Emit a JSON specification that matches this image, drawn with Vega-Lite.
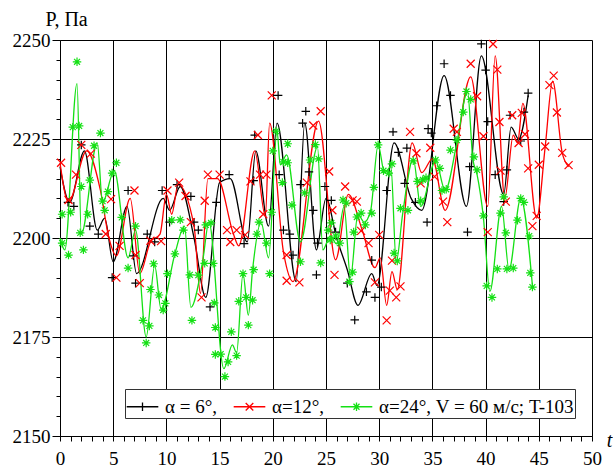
{
"$schema":"https://vega.github.io/schema/vega-lite/v6.json",
"width":532,"height":396,
"autosize":{"type":"none"},
"padding":{"left":60,"top":40,"right":21,"bottom":32},
"background":"white",
"config":{"view":{"stroke":null},
 "axis":{"labelColor":"black","titleColor":"black","labelOverlap":false,"labelFlush":false,"tickColor":"black","domainColor":"black","gridColor":"black"},
 "legend":{"labelFont":"Times New Roman","labelFontSize":19,"labelColor":"black"}},
"datasets":{
"ln":[
{"s":"a6","t":0,"p":2218},{"s":"a6","t":0.9,"p":2209},{"s":"a6","t":2.3,"p":2222},{"s":"a6","t":3.5,"p":2202},{"s":"a6","t":4.2,"p":2205},{"s":"a6","t":5.0,"p":2194},{"s":"a6","t":6.3,"p":2208},{"s":"a6","t":7.2,"p":2191},{"s":"a6","t":9.7,"p":2210},{"s":"a6","t":10.3,"p":2207},{"s":"a6","t":11.3,"p":2213},{"s":"a6","t":12.6,"p":2200},{"s":"a6","t":13.7,"p":2185},{"s":"a6","t":15.0,"p":2214},{"s":"a6","t":16.0,"p":2215},{"s":"a6","t":17.6,"p":2199},{"s":"a6","t":18.4,"p":2222},{"s":"a6","t":19.6,"p":2203},{"s":"a6","t":20.4,"p":2229},{"s":"a6","t":22.2,"p":2189},{"s":"a6","t":23.0,"p":2229},{"s":"a6","t":24.1,"p":2197},{"s":"a6","t":25.0,"p":2210},{"s":"a6","t":26.0,"p":2200},{"s":"a6","t":27.0,"p":2192},{"s":"a6","t":28.0,"p":2183},{"s":"a6","t":29.3,"p":2191},{"s":"a6","t":29.8,"p":2188},{"s":"a6","t":31.4,"p":2224},{"s":"a6","t":33.0,"p":2210},{"s":"a6","t":34.0,"p":2207},{"s":"a6","t":36.1,"p":2241},{"s":"a6","t":38.2,"p":2208},{"s":"a6","t":39.6,"p":2246},{"s":"a6","t":41.7,"p":2211},{"s":"a6","t":42.4,"p":2228},{"s":"a6","t":43.1,"p":2225},{"s":"a6","t":44.0,"p":2236},
{"s":"a12","t":0,"p":2219},{"s":"a12","t":0.8,"p":2209},{"s":"a12","t":2.5,"p":2222},{"s":"a12","t":3.8,"p":2212},{"s":"a12","t":4.6,"p":2200},{"s":"a12","t":5.3,"p":2195.5},{"s":"a12","t":6.6,"p":2210},{"s":"a12","t":7.5,"p":2191},{"s":"a12","t":8.5,"p":2199},{"s":"a12","t":9.4,"p":2201},{"s":"a12","t":10.0,"p":2211},{"s":"a12","t":10.5,"p":2206},{"s":"a12","t":11.1,"p":2213.5},{"s":"a12","t":12.6,"p":2203},{"s":"a12","t":13.2,"p":2186},{"s":"a12","t":13.9,"p":2215},{"s":"a12","t":14.8,"p":2215},{"s":"a12","t":16.3,"p":2201},{"s":"a12","t":16.8,"p":2198},{"s":"a12","t":18.3,"p":2222},{"s":"a12","t":19.3,"p":2205.5},{"s":"a12","t":19.7,"p":2229},{"s":"a12","t":21.0,"p":2196.5},{"s":"a12","t":21.9,"p":2189},{"s":"a12","t":24.3,"p":2229.5},{"s":"a12","t":25.9,"p":2194.5},{"s":"a12","t":27.1,"p":2211},{"s":"a12","t":28.4,"p":2202},{"s":"a12","t":29.6,"p":2192.5},{"s":"a12","t":30.1,"p":2195},{"s":"a12","t":30.7,"p":2183},{"s":"a12","t":31.2,"p":2191.5},{"s":"a12","t":31.7,"p":2187},{"s":"a12","t":33.1,"p":2224},{"s":"a12","t":34.0,"p":2216.5},{"s":"a12","t":35.0,"p":2220},{"s":"a12","t":36.2,"p":2207},{"s":"a12","t":38.6,"p":2240.7},{"s":"a12","t":40.2,"p":2208},{"s":"a12","t":40.9,"p":2246},{"s":"a12","t":41.8,"p":2210},{"s":"a12","t":42.6,"p":2226},{"s":"a12","t":43.0,"p":2224},{"s":"a12","t":43.5,"p":2234},{"s":"a12","t":44.8,"p":2205},{"s":"a12","t":45.6,"p":2223},{"s":"a12","t":46.3,"p":2239.6},{"s":"a12","t":47.2,"p":2221.5},{"s":"a12","t":47.8,"p":2218},
{"s":"a24","t":0,"p":2200},{"s":"a24","t":0.45,"p":2197},{"s":"a24","t":1.6,"p":2239},{"s":"a24","t":2.0,"p":2201},{"s":"a24","t":3.5,"p":2224},{"s":"a24","t":4.0,"p":2209},{"s":"a24","t":5.1,"p":2217},{"s":"a24","t":6.4,"p":2195},{"s":"a24","t":7.1,"p":2202},{"s":"a24","t":8.1,"p":2175},{"s":"a24","t":8.9,"p":2193},{"s":"a24","t":9.5,"p":2182},{"s":"a24","t":10.8,"p":2196},{"s":"a24","t":11.7,"p":2203},{"s":"a24","t":12.3,"p":2182.5},{"s":"a24","t":13.4,"p":2194},{"s":"a24","t":14.0,"p":2204},{"s":"a24","t":15.4,"p":2167},{"s":"a24","t":16.2,"p":2173},{"s":"a24","t":16.6,"p":2171},{"s":"a24","t":17.2,"p":2191},{"s":"a24","t":17.7,"p":2180.5},{"s":"a24","t":18.1,"p":2192},{"s":"a24","t":18.9,"p":2204},{"s":"a24","t":19.6,"p":2195},{"s":"a24","t":20.4,"p":2227},{"s":"a24","t":20.7,"p":2218.5},{"s":"a24","t":21.3,"p":2221},{"s":"a24","t":22.6,"p":2199},{"s":"a24","t":24.2,"p":2223},{"s":"a24","t":24.7,"p":2197},{"s":"a24","t":25.4,"p":2200.5},{"s":"a24","t":26.0,"p":2198.5},{"s":"a24","t":26.7,"p":2208},{"s":"a24","t":27.3,"p":2190},{"s":"a24","t":28.0,"p":2206},{"s":"a24","t":28.6,"p":2204},{"s":"a24","t":29.2,"p":2207},{"s":"a24","t":29.9,"p":2223.5},{"s":"a24","t":30.5,"p":2216.5},{"s":"a24","t":31.1,"p":2218},{"s":"a24","t":31.6,"p":2194},{"s":"a24","t":32.2,"p":2206},{"s":"a24","t":33.2,"p":2220},{"s":"a24","t":33.9,"p":2208},{"s":"a24","t":35.3,"p":2219.5},{"s":"a24","t":36.2,"p":2212},{"s":"a24","t":37.3,"p":2224},{"s":"a24","t":38.3,"p":2237},{"s":"a24","t":38.8,"p":2220},{"s":"a24","t":39.2,"p":2216},{"s":"a24","t":39.8,"p":2205},{"s":"a24","t":40.4,"p":2186.5},{"s":"a24","t":41.5,"p":2208},{"s":"a24","t":42.2,"p":2192},{"s":"a24","t":43.3,"p":2210},{"s":"a24","t":44.4,"p":2188}
],
"mk":[
{"s":"a6","t":0.75,"p":2209},{"s":"a6","t":1.3,"p":2208},{"s":"a6","t":2.0,"p":2223.5},{"s":"a6","t":2.8,"p":2203},{"s":"a6","t":3.6,"p":2201},{"s":"a6","t":4.9,"p":2190},{"s":"a6","t":6.4,"p":2212},{"s":"a6","t":6.9,"p":2195.5},{"s":"a6","t":7.1,"p":2188.6},{"s":"a6","t":8.2,"p":2201},{"s":"a6","t":8.9,"p":2199},{"s":"a6","t":9.6,"p":2212},{"s":"a6","t":10.3,"p":2204},{"s":"a6","t":11.0,"p":2213.5},{"s":"a6","t":12.3,"p":2210.5},{"s":"a6","t":12.6,"p":2204},{"s":"a6","t":13.0,"p":2202},{"s":"a6","t":14.1,"p":2182.6},{"s":"a6","t":14.7,"p":2209},{"s":"a6","t":15.9,"p":2216},{"s":"a6","t":17.3,"p":2198.6},{"s":"a6","t":18.2,"p":2214.5},{"s":"a6","t":18.3,"p":2226},{"s":"a6","t":20.5,"p":2236},{"s":"a6","t":20.6,"p":2216},{"s":"a6","t":21.0,"p":2202},{"s":"a6","t":21.6,"p":2201},{"s":"a6","t":21.9,"p":2195.7},{"s":"a6","t":22.6,"p":2213.5},{"s":"a6","t":22.8,"p":2229},{"s":"a6","t":23.1,"p":2232},{"s":"a6","t":23.4,"p":2216.7},{"s":"a6","t":23.8,"p":2207},{"s":"a6","t":24.1,"p":2190.7},{"s":"a6","t":24.2,"p":2198.7},{"s":"a6","t":24.9,"p":2213},{"s":"a6","t":25.5,"p":2209.5},{"s":"a6","t":25.9,"p":2201.5},{"s":"a6","t":27.0,"p":2188.6},{"s":"a6","t":27.7,"p":2179.3},{"s":"a6","t":28.8,"p":2186.4},{"s":"a6","t":29.3,"p":2194.4},{"s":"a6","t":29.6,"p":2185},{"s":"a6","t":30.2,"p":2187.6},{"s":"a6","t":30.7,"p":2212},{"s":"a6","t":31.3,"p":2226.8},{"s":"a6","t":31.8,"p":2221.6},{"s":"a6","t":32.4,"p":2213.8},{"s":"a6","t":32.6,"p":2222.7},{"s":"a6","t":33.4,"p":2209},{"s":"a6","t":34.5,"p":2204},{"s":"a6","t":34.6,"p":2227.6},{"s":"a6","t":34.9,"p":2226.5},{"s":"a6","t":35.4,"p":2233.4},{"s":"a6","t":36.1,"p":2244},{"s":"a6","t":36.7,"p":2236},{"s":"a6","t":38.3,"p":2201.5},{"s":"a6","t":38.5,"p":2218},{"s":"a6","t":39.6,"p":2249},{"s":"a6","t":40.0,"p":2242.4},{"s":"a6","t":40.2,"p":2229.4},{"s":"a6","t":40.9,"p":2216},{"s":"a6","t":41.7,"p":2209.2},{"s":"a6","t":42.0,"p":2217.2},{"s":"a6","t":42.3,"p":2231},{"s":"a6","t":43.3,"p":2224.5},{"s":"a6","t":43.6,"p":2231.8},{"s":"a6","t":44.0,"p":2236.6},
{"s":"a12","t":0.1,"p":2219},{"s":"a12","t":0.8,"p":2209.6},{"s":"a12","t":1.5,"p":2216},{"s":"a12","t":2.0,"p":2223.5},{"s":"a12","t":2.9,"p":2221.3},{"s":"a12","t":4.3,"p":2201},{"s":"a12","t":4.8,"p":2209.8},{"s":"a12","t":5.3,"p":2190},{"s":"a12","t":5.6,"p":2198},{"s":"a12","t":7.0,"p":2212},{"s":"a12","t":7.1,"p":2195.7},{"s":"a12","t":7.5,"p":2188.6},{"s":"a12","t":8.5,"p":2199.3},{"s":"a12","t":9.5,"p":2199.2},{"s":"a12","t":10.1,"p":2212},{"s":"a12","t":11.2,"p":2214},{"s":"a12","t":11.8,"p":2210.6},{"s":"a12","t":12.3,"p":2204},{"s":"a12","t":13.3,"p":2185},{"s":"a12","t":13.6,"p":2209.4},{"s":"a12","t":13.9,"p":2216},{"s":"a12","t":15.0,"p":2216},{"s":"a12","t":15.7,"p":2202},{"s":"a12","t":16.0,"p":2199},{"s":"a12","t":16.6,"p":2202},{"s":"a12","t":17.4,"p":2200.8},{"s":"a12","t":17.9,"p":2214.3},{"s":"a12","t":18.6,"p":2226},{"s":"a12","t":18.8,"p":2216},{"s":"a12","t":19.1,"p":2206},{"s":"a12","t":19.4,"p":2216},{"s":"a12","t":19.9,"p":2236},{"s":"a12","t":21.3,"p":2195.7},{"s":"a12","t":21.3,"p":2189.2},{"s":"a12","t":22.5,"p":2188.8},{"s":"a12","t":23.2,"p":2214},{"s":"a12","t":23.8,"p":2228.4},{"s":"a12","t":24.5,"p":2232},{"s":"a12","t":25.3,"p":2216.8},{"s":"a12","t":25.6,"p":2207},{"s":"a12","t":25.8,"p":2190.7},{"s":"a12","t":26.8,"p":2213},{"s":"a12","t":27.5,"p":2209.5},{"s":"a12","t":27.9,"p":2209.2},{"s":"a12","t":28.3,"p":2201.8},{"s":"a12","t":29.0,"p":2198.7},{"s":"a12","t":29.6,"p":2188.8},{"s":"a12","t":30.0,"p":2200.8},{"s":"a12","t":30.7,"p":2179.2},{"s":"a12","t":31.0,"p":2186.7},{"s":"a12","t":31.2,"p":2194.3},{"s":"a12","t":31.6,"p":2185},{"s":"a12","t":32.0,"p":2187.8},{"s":"a12","t":32.9,"p":2226.8},{"s":"a12","t":33.5,"p":2221.4},{"s":"a12","t":33.9,"p":2213.8},{"s":"a12","t":34.8,"p":2222.8},{"s":"a12","t":35.2,"p":2215.5},{"s":"a12","t":36.0,"p":2209.2},{"s":"a12","t":36.4,"p":2204},{"s":"a12","t":37.0,"p":2227.6},{"s":"a12","t":37.3,"p":2226.8},{"s":"a12","t":38.6,"p":2244},{"s":"a12","t":39.2,"p":2235.8},{"s":"a12","t":39.8,"p":2225.7},{"s":"a12","t":40.2,"p":2201.5},{"s":"a12","t":40.7,"p":2249},{"s":"a12","t":41.1,"p":2242.5},{"s":"a12","t":41.3,"p":2229.3},{"s":"a12","t":41.4,"p":2217},{"s":"a12","t":41.9,"p":2209.2},{"s":"a12","t":42.5,"p":2231},{"s":"a12","t":43.1,"p":2224},{"s":"a12","t":43.4,"p":2231.6},{"s":"a12","t":43.7,"p":2226.2},{"s":"a12","t":44.0,"p":2217.6},{"s":"a12","t":44.4,"p":2203},{"s":"a12","t":44.8,"p":2205.6},{"s":"a12","t":45.0,"p":2218.5},{"s":"a12","t":45.6,"p":2223.1},{"s":"a12","t":46.0,"p":2238.6},{"s":"a12","t":46.4,"p":2241},{"s":"a12","t":46.7,"p":2231.7},{"s":"a12","t":47.2,"p":2221.5},{"s":"a12","t":47.8,"p":2218.4},
{"s":"a24","t":0.2,"p":2206},{"s":"a24","t":0.2,"p":2198.7},{"s":"a24","t":0.8,"p":2195.7},{"s":"a24","t":1.0,"p":2206.5},{"s":"a24","t":1.2,"p":2228},{"s":"a24","t":1.6,"p":2244.5},{"s":"a24","t":1.8,"p":2228.3},{"s":"a24","t":1.9,"p":2201.3},{"s":"a24","t":2.0,"p":2213},{"s":"a24","t":2.2,"p":2197},{"s":"a24","t":2.6,"p":2206},{"s":"a24","t":2.8,"p":2214.6},{"s":"a24","t":3.2,"p":2223.3},{"s":"a24","t":3.8,"p":2226.5},{"s":"a24","t":4.0,"p":2209.3},{"s":"a24","t":4.2,"p":2207},{"s":"a24","t":4.5,"p":2211.7},{"s":"a24","t":4.9,"p":2216.4},{"s":"a24","t":5.3,"p":2219},{"s":"a24","t":5.8,"p":2205.2},{"s":"a24","t":6.4,"p":2192.4},{"s":"a24","t":7.1,"p":2203},{"s":"a24","t":7.8,"p":2179.2},{"s":"a24","t":8.1,"p":2173.5},{"s":"a24","t":8.4,"p":2177.8},{"s":"a24","t":8.5,"p":2187},{"s":"a24","t":8.8,"p":2193.5},{"s":"a24","t":9.3,"p":2185.6},{"s":"a24","t":9.7,"p":2181.8},{"s":"a24","t":9.9,"p":2183.5},{"s":"a24","t":10.1,"p":2191},{"s":"a24","t":10.5,"p":2204.5},{"s":"a24","t":10.8,"p":2196},{"s":"a24","t":11.3,"p":2204.6},{"s":"a24","t":11.6,"p":2202},{"s":"a24","t":12.2,"p":2190.7},{"s":"a24","t":12.4,"p":2179.2},{"s":"a24","t":13.0,"p":2190.6},{"s":"a24","t":13.6,"p":2193.6},{"s":"a24","t":13.7,"p":2203.3},{"s":"a24","t":14.2,"p":2203.8},{"s":"a24","t":14.4,"p":2193.6},{"s":"a24","t":14.5,"p":2183.6},{"s":"a24","t":14.6,"p":2177.4},{"s":"a24","t":14.6,"p":2170.6},{"s":"a24","t":15.1,"p":2170.7},{"s":"a24","t":15.5,"p":2165},{"s":"a24","t":15.8,"p":2168.7},{"s":"a24","t":16.1,"p":2176.3},{"s":"a24","t":16.6,"p":2170.3},{"s":"a24","t":16.8,"p":2184},{"s":"a24","t":17.2,"p":2191},{"s":"a24","t":17.5,"p":2185},{"s":"a24","t":17.7,"p":2178},{"s":"a24","t":18.1,"p":2184.3},{"s":"a24","t":18.2,"p":2192},{"s":"a24","t":18.5,"p":2201},{"s":"a24","t":18.7,"p":2204},{"s":"a24","t":19.4,"p":2198.7},{"s":"a24","t":19.7,"p":2191},{"s":"a24","t":19.9,"p":2206.5},{"s":"a24","t":20.0,"p":2222},{"s":"a24","t":20.3,"p":2227},{"s":"a24","t":20.9,"p":2214},{"s":"a24","t":21.0,"p":2219.2},{"s":"a24","t":21.4,"p":2223.8},{"s":"a24","t":21.4,"p":2219},{"s":"a24","t":21.8,"p":2208.3},{"s":"a24","t":22.6,"p":2194},{"s":"a24","t":23.0,"p":2211.4},{"s":"a24","t":23.5,"p":2219.7},{"s":"a24","t":24.0,"p":2223.6},{"s":"a24","t":24.3,"p":2220},{"s":"a24","t":24.5,"p":2193.7},{"s":"a24","t":25.2,"p":2202},{"s":"a24","t":25.5,"p":2203.8},{"s":"a24","t":25.4,"p":2199.5},{"s":"a24","t":25.9,"p":2200.5},{"s":"a24","t":26.3,"p":2198.7},{"s":"a24","t":26.6,"p":2209.6},{"s":"a24","t":26.9,"p":2208.8},{"s":"a24","t":27.2,"p":2189},{"s":"a24","t":27.5,"p":2191.4},{"s":"a24","t":27.6,"p":2201.5},{"s":"a24","t":27.9,"p":2205.3},{"s":"a24","t":28.3,"p":2206.3},{"s":"a24","t":28.7,"p":2203.3},{"s":"a24","t":29.3,"p":2206.3},{"s":"a24","t":29.5,"p":2212.8},{"s":"a24","t":29.9,"p":2223.5},{"s":"a24","t":30.4,"p":2217},{"s":"a24","t":30.9,"p":2216.4},{"s":"a24","t":31.2,"p":2218.7},{"s":"a24","t":31.4,"p":2196.2},{"s":"a24","t":31.7,"p":2194.2},{"s":"a24","t":32.0,"p":2207.5},{"s":"a24","t":32.7,"p":2207},{"s":"a24","t":33.2,"p":2219.5},{"s":"a24","t":33.6,"p":2214.3},{"s":"a24","t":33.9,"p":2209.4},{"s":"a24","t":34.1,"p":2214.7},{"s":"a24","t":34.4,"p":2215.2},{"s":"a24","t":35.3,"p":2219.7},{"s":"a24","t":35.7,"p":2217.6},{"s":"a24","t":35.9,"p":2212},{"s":"a24","t":36.3,"p":2212.3},{"s":"a24","t":36.7,"p":2222.2},{"s":"a24","t":37.3,"p":2224.7},{"s":"a24","t":37.9,"p":2231.8},{"s":"a24","t":38.2,"p":2237},{"s":"a24","t":38.6,"p":2235},{"s":"a24","t":38.9,"p":2220.5},{"s":"a24","t":39.2,"p":2217.2},{"s":"a24","t":39.8,"p":2205.6},{"s":"a24","t":40.1,"p":2187.9},{"s":"a24","t":40.6,"p":2185},{"s":"a24","t":41.1,"p":2192.2},{"s":"a24","t":41.4,"p":2206.3},{"s":"a24","t":41.7,"p":2210.4},{"s":"a24","t":41.9,"p":2201.3},{"s":"a24","t":42.0,"p":2192.2},{"s":"a24","t":42.6,"p":2192.4},{"s":"a24","t":43.0,"p":2204.5},{"s":"a24","t":43.3,"p":2210},{"s":"a24","t":43.6,"p":2209},{"s":"a24","t":44.1,"p":2200.5},{"s":"a24","t":44.2,"p":2191.2},{"s":"a24","t":44.4,"p":2187.6}
]
},
"encoding":{
  "x":{"field":"t","type":"quantitative","scale":{"domain":[0,50],"nice":false},
   "axis":{"values":[0,1,2,3,4,5,6,7,8,9,10,11,12,13,14,15,16,17,18,19,20,21,22,23,24,25,26,27,28,29,30,31,32,33,34,35,36,37,38,39,40,41,42,43,44,45,46,47,48,49,50],
    "format":"d","labelExpr":"datum.value % 5 === 0 ? datum.label : ''","labelFlush":false,"labelOverlap":false,
    "labelFont":"Times New Roman","labelFontSize":19,
    "tickSize":5,"labelPadding":8,
    "grid":true,"gridOpacity":{"condition":{"test":"datum.value % 5 === 0","value":1},"value":0},
    "title":"t","titleFont":"Times New Roman","titleX":549,"titleY":10,"titleAlign":"center","titleBaseline":"alphabetic","titleFontSize":20,"titleFontStyle":"italic","titleFontWeight":"normal"}},
  "y":{"field":"p","type":"quantitative","scale":{"domain":[2150,2250],"nice":false,"zero":false},
   "axis":{"values":[2150,2155,2160,2165,2170,2175,2180,2185,2190,2195,2200,2205,2210,2215,2220,2225,2230,2235,2240,2245,2250],
    "format":"d","labelExpr":"datum.value % 25 === 0 ? datum.label : ''","labelFlush":false,"labelOverlap":false,
    "labelFont":"Times New Roman","labelFontSize":19,
    "tickSize":{"condition":{"test":"datum.value % 25 === 0","value":8},"value":4},"labelPadding":2,
    "grid":true,"gridOpacity":{"condition":{"test":"datum.value % 25 === 0","value":1},"value":0},
    "title":"P, Па","titleFont":"Times New Roman","titleAngle":0,"titleX":-15,"titleY":-15,"titleAlign":"left","titleBaseline":"alphabetic","titleFontSize":20,"titleFontWeight":"normal"}},
  "color":{"field":"s","type":"nominal","scale":{"domain":["a6","a12","a24"],"range":["#000000","#ff0000","#14e014"]},
   "legend":{"orient":"none","legendX":65,"legendY":349,"direction":"horizontal","title":null,
    "labelExpr":"datum.value === 'a6' ? 'α = 6°,' : datum.value === 'a12' ? 'α=12°,' : 'α=24°, V = 60 м/с; T-103'",
    "labelFont":"Times New Roman","labelFontSize":19,"labelColor":"black",
    "labelOffset":6,"columnPadding":13,"labelLimit":0,"symbolOpacity":1,
    "symbolSize":1000,"symbolStrokeWidth":1.3,"fillColor":"white","strokeColor":"#333333","padding":1}}
},
"layer":[
{"data":{"name":"ln"},
 "mark":{"type":"line","interpolate":"monotone","strokeWidth":1.3}},
{"data":{"name":"mk"},
 "transform":[{"filter":"datum.t < -1"}],
 "mark":{"type":"point","filled":false,"strokeWidth":1.3},
 "encoding":{
  "shape":{"field":"s","type":"nominal","scale":{"domain":["a6","a12","a24"],"range":["M-1,0H1M0,-0.27V0.27","M-1,0H1M-0.24,-0.24L0.24,0.24M-0.24,0.24L0.24,-0.24","M-1,0H1M0,-0.27V0.27M-0.19,-0.19L0.19,0.19M-0.19,0.19L0.19,-0.19"]},
   "legend":{"orient":"none","legendX":65,"legendY":349,"direction":"horizontal","title":null,
    "labelExpr":"datum.value === 'a6' ? 'α = 6°,' : datum.value === 'a12' ? 'α=12°,' : 'α=24°, V = 60 м/с; T-103'",
    "labelFont":"Times New Roman","labelFontSize":19,"labelColor":"black",
    "labelOffset":6,"columnPadding":13,"labelLimit":0,"symbolOpacity":1,
    "symbolSize":1000,"symbolStrokeWidth":1.3,"fillColor":"white","strokeColor":"#333333","padding":1}}
 }},
{"data":{"name":"mk"},
 "transform":[{"filter":"datum.s === 'a6'"}],
 "mark":{"type":"point","filled":false,"strokeWidth":1.2,"size":72,"opacity":1,"shape":"M-1,0H1M0,-1V1"}},
{"data":{"name":"mk"},
 "transform":[{"filter":"datum.s === 'a12'"}],
 "mark":{"type":"point","filled":false,"strokeWidth":1.2,"size":64,"opacity":1,"shape":"M-1,-1L1,1M-1,1L1,-1"}},
{"data":{"name":"mk"},
 "transform":[{"filter":"datum.s === 'a24'"}],
 "mark":{"type":"point","filled":false,"strokeWidth":1.2,"size":72,"opacity":1,"shape":"M-1,0H1M0,-1V1M-0.7,-0.7L0.7,0.7M-0.7,0.7L0.7,-0.7"}}
]
}
